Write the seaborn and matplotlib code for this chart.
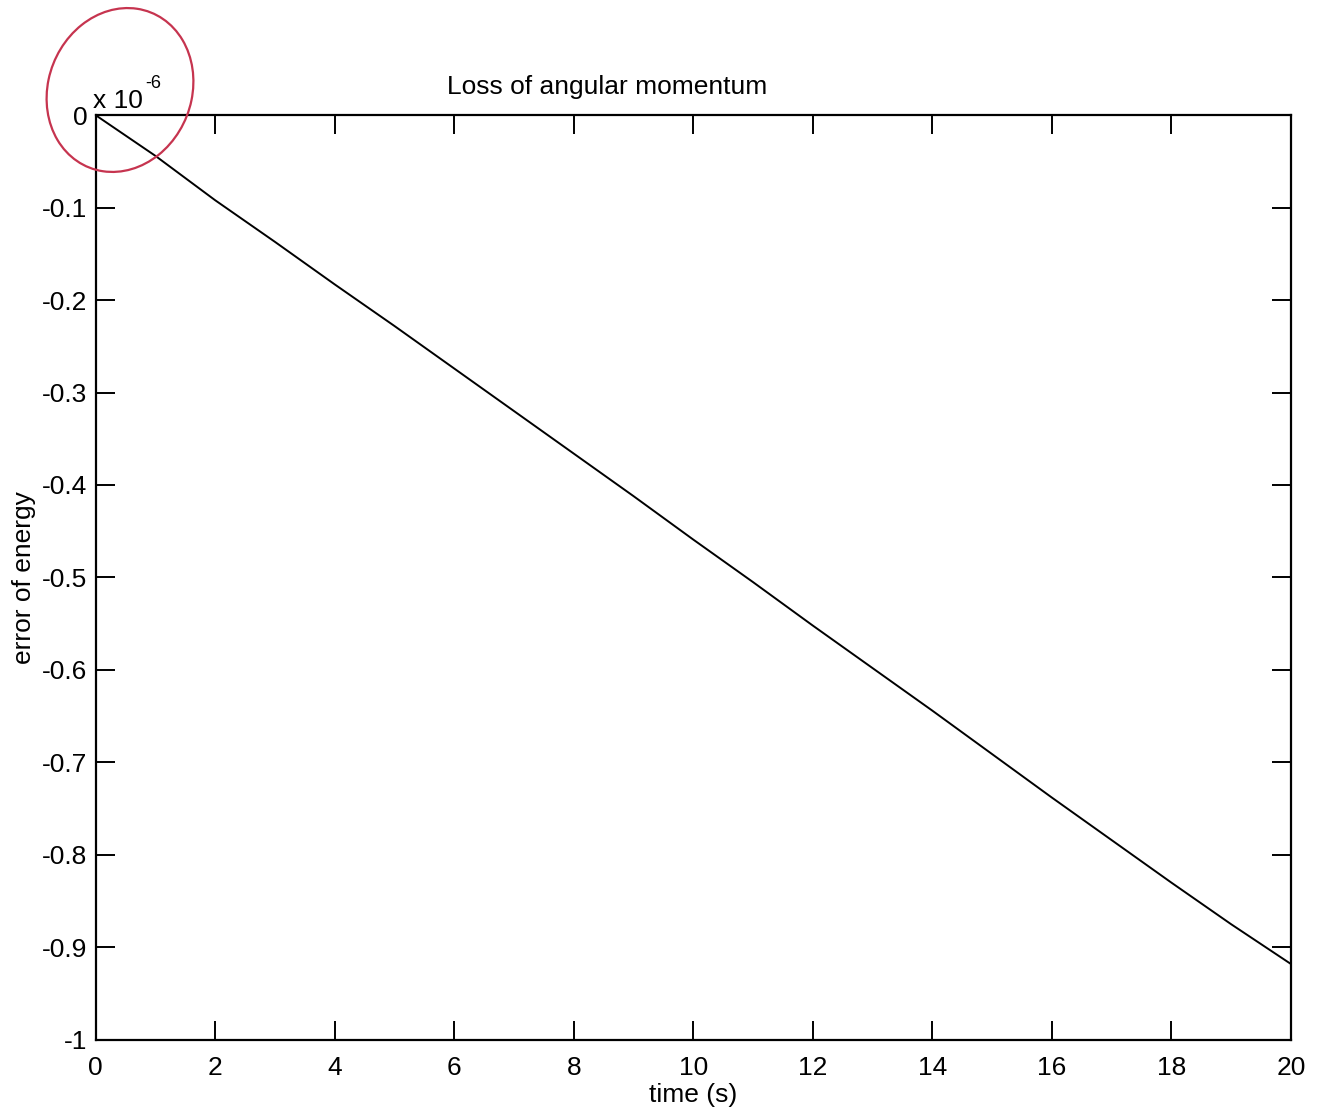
import numpy as np
import pandas as pd
import matplotlib.pyplot as plt
import seaborn as sns
from matplotlib.patches import Ellipse

# values (error in units of 1e-6)
time_s = [0, 1, 2, 3, 4, 5, 6, 7, 8, 9, 10, 11, 12, 13, 14, 15, 16, 17, 18, 19, 20]
error_e6 = [0.0, -0.044, -0.092, -0.137, -0.183, -0.228, -0.274, -0.320, -0.366,
            -0.412, -0.459, -0.505, -0.552, -0.598, -0.644, -0.691, -0.738,
            -0.784, -0.830, -0.875, -0.918]
xticks = list(range(0, 21, 2))
yticks = [0, -0.1, -0.2, -0.3, -0.4, -0.5, -0.6, -0.7, -0.8, -0.9, -1]
ytick_labels = ["0", "-0.1", "-0.2", "-0.3", "-0.4", "-0.5", "-0.6", "-0.7", "-0.8", "-0.9", "-1"]

df = pd.DataFrame({"time": time_s, "err": error_e6})

sns.set_theme(style="ticks")
plt.rcParams["font.family"] = ["Liberation Sans", "DejaVu Sans"]
plt.rcParams["axes.unicode_minus"] = False
plt.rcParams["text.color"] = "black"
plt.rcParams["axes.labelcolor"] = "black"

fs = 19

fig = plt.figure(figsize=(13.28, 11.18), dpi=100)
ax = fig.add_axes([0.072, 0.07, 0.9, 0.827])

sns.lineplot(data=df, x="time", y="err", ax=ax, color="black", linewidth=1.4)

ax.set_xlim(0, 20)
ax.set_ylim(-1, 0)
ax.set_xticks(xticks)
ax.set_yticks(yticks)
ax.set_yticklabels(ytick_labels)
ax.tick_params(direction="in", length=14, width=1.4, labelsize=fs,
               top=True, right=True, colors="black", pad=6)
ax.tick_params(axis="x", pad=12)
for s in ax.spines.values():
    s.set_visible(True)
    s.set_linewidth(1.6)
    s.set_color("black")

ax.set_xlabel("time (s)", fontsize=fs, labelpad=2)
ax.set_ylabel("error of energy", fontsize=fs, labelpad=4)
fig.text(607 / 1328, 1 - 87 / 1118, "Loss of angular momentum", fontsize=fs,
         ha="center", va="center")
fig.text(93 / 1328, 1 - 101 / 1118, "x 10", fontsize=fs, ha="left", va="center")
fig.text(145 / 1328, 1 - 83 / 1118, "-6", fontsize=13, ha="left", va="center")

# hand-drawn red circle around the exponent
circ = Ellipse((120 / 1328, 1 - 90 / 1118), 145 / 1328, 165 / 1118, angle=-10,
               transform=fig.transFigure, fill=False, edgecolor="#c6344f", linewidth=1.6)
fig.patches.append(circ)

fig.savefig("out.png", dpi=100, facecolor="white")
